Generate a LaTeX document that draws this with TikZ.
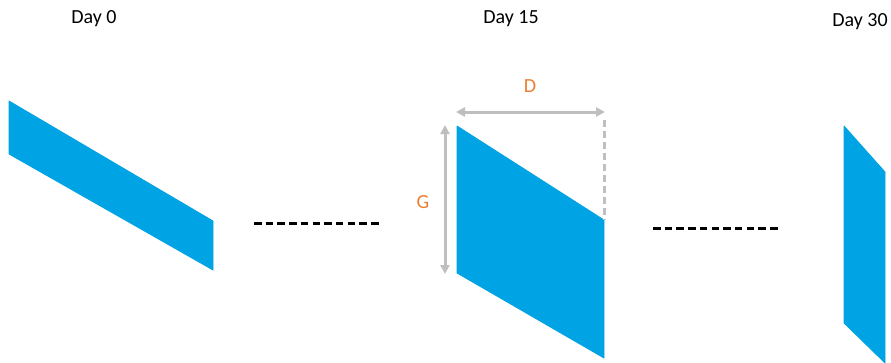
\documentclass[tikz,border=0pt]{standalone}
\usepackage{fontspec}
\setmainfont{Carlito}
\usepackage{tikz}
\usetikzlibrary{arrows.meta,positioning,calc}

\definecolor{sheetblue}{RGB}{0,163,228}
\definecolor{dimgray}{RGB}{191,191,191}
\definecolor{dimorange}{RGB}{237,125,49}

\begin{document}
\begin{tikzpicture}[x=1pt, y=-1pt, font=\fontsize{20}{24}\selectfont,
  sheet/.style={fill=sheetblue, draw=sheetblue, line width=0.8pt, line join=round},
  gap/.style={line width=3pt, dash pattern=on 7.5pt off 4.2pt},
  dim/.style={dimgray, line width=3pt, {Triangle[length=9pt,width=9pt]}-{Triangle[length=9pt,width=9pt]}},
  dimlabel/.style={text=dimorange, inner sep=0pt}]
  \useasboundingbox (0,0) rectangle (891,362);
  % day labels
  \node (d0) at (94,19) {Day 0};
  \node (d15) at (511,19) {Day 15};
  \node (d30) at (860,22) {Day 30};
  % sheets
  \fill[sheet] (9,101) -- (213,221) -- (213,270) -- (9,154) -- cycle;
  \fill[sheet] (457,126) -- (604,220) -- (604,358) -- (457,273) -- cycle;
  \fill[sheet] (844,126) -- (885,172) -- (885,363) -- (844,323) -- cycle;
  % time gaps
  \coordinate (g1a) at (254,223);
  \coordinate (g1b) at (382,223);
  \coordinate (g2a) at (653,228);
  \coordinate (g2b) at (781,228);
  \draw[gap] (g1a) -- (g1b);
  \draw[gap] (g2a) -- (g2b);
  % dimensions
  \coordinate (gtop) at (445,125);
  \coordinate (gbot) at (445,274);
  \coordinate (dleft) at (456,112);
  \coordinate (dright) at (605,112);
  \coordinate (dfoot) at (604,220);
  \draw[dim] (gtop) -- (gbot);
  \draw[dim] (dleft) -- (dright);
  \draw[dimgray, line width=3pt, dash pattern=on 7pt off 4pt] (604,120) -- (dfoot);
  \node[dimlabel] (glab) at (423,202) {G};
  \node[dimlabel] (dlab) at (530,86) {D};
\end{tikzpicture}
\end{document}
